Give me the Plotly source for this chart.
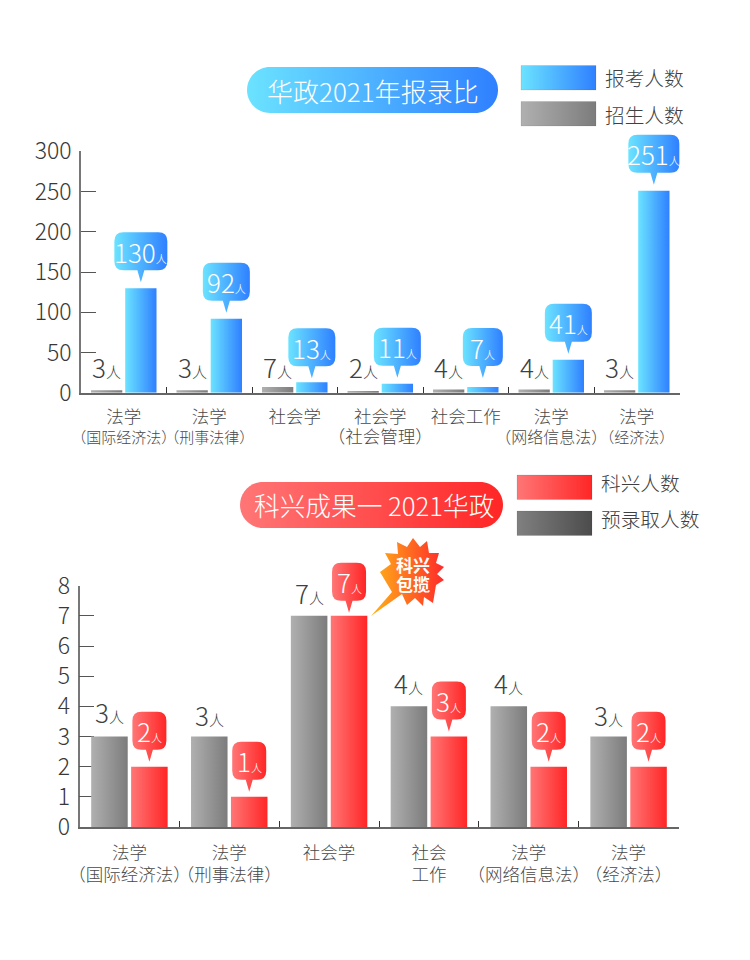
import plotly.graph_objects as go

W, H = 750, 960
FONT = "Noto Sans CJK SC"
TXT = "#404040"

# ---------- data ----------
cats_top = ["法学|（国际经济法）", "法学|（刑事法律）", "社会学", "社会学|（社会管理）", "社会工作", "法学|（网络信息法）", "法学|（经济法）"]
applicants_top = [130, 92, 13, 11, 7, 41, 251]
quota_top = [3, 3, 7, 2, 4, 4, 3]
ticks_top = [0, 50, 100, 150, 200, 250, 300]

cats_bot = ["法学|（国际经济法）", "法学|（刑事法律）", "社会学", "社会|工作", "法学|（网络信息法）", "法学|（经济法）"]
preadmit_bot = [3, 3, 7, 4, 4, 3]
kexing_bot = [2, 1, 7, 3, 2, 2]
ticks_bot = [0, 1, 2, 3, 4, 5, 6, 7, 8]

title_top = "华政2021年报录比"
title_bot = "科兴成果一 2021华政"
legend_top = ["报考人数", "招生人数"]
legend_bot = ["科兴人数", "预录取人数"]
unit = "人"
star_lines = ["科兴", "包揽"]

# ---------- styles (key colour -> gradient, applied after render) ----------
BLUE, GREY, RED, DARK, ORANGE = "#4fb4ff", "#949494", "#ff5050", "#666666", "#ff7a1a"
GRADS = {BLUE: ("#6be3ff", "#2f80ff"), GREY: ("#b0b0b0", "#7c7c7c"), RED: ("#ff7676", "#ff2626"),
         DARK: ("#808080", "#4c4c4c"), ORANGE: ("#ffb516", "#ff2a2a")}
def fy(p): return 1 - p / H
def fx(p): return p / W

# plot areas in pixels
TOP = dict(x0=81, x1=679.5, y0=392.7, y1=151.4, ymax=300, n=len(cats_top))
BOT = dict(x0=79.5, x1=678.5, y0=827, y1=585.7, ymax=8, n=len(cats_bot))

fig = go.Figure()
def label(c, big, small):
    parts = c.split("|")
    out = f'<span style="font-size:{big}px">{parts[0]}</span>'
    if len(parts) > 1:
        s = big if parts[1][1:-1] == "工作" else small
        out += f'<br><span style="font-size:{s}px">{parts[1]}</span>'
    return out

def add_bars(x, a, b, ca, cb, xa, ya):
    fig.add_bar(x=x, y=a, marker=dict(color=ca, line_width=0), xaxis=xa, yaxis=ya, cliponaxis=False)
    fig.add_bar(x=x, y=b, marker=dict(color=cb, line_width=0), xaxis=xa, yaxis=ya, cliponaxis=False)

small_top = [15, 15, 15, 17.5, 15, 16, 15]
xt = [label(c, 17.5, s) for c, s in zip(cats_top, small_top)]
xb = [label(c, 17.5, 17.5) for c in cats_bot]
add_bars(xt, quota_top, applicants_top, GREY, BLUE, "x", "y")
add_bars(xb, preadmit_bot, kexing_bot, GREY, RED, "x2", "y2")

axis_x = dict(type="category", tickson="boundaries", ticks="inside", ticklen=6, tickcolor="#333333", tickwidth=1,
              showline=True, linecolor="#666666", linewidth=1.5, showgrid=False, zeroline=False, layer="below traces",
              tickangle=0, automargin=False, ticklabelstandoff=10)
axis_y = dict(ticks="inside", ticklen=15, tickcolor="#555555", tickwidth=1.2, showline=True, linecolor="#777777",
              linewidth=1.5, showgrid=False, zeroline=False, layer="below traces", tickmode="array", automargin=False,
              ticklabelstandoff=3,
              tickfont=dict(family=FONT, size=23, color="#383838", weight=300))

shapes, ann = [], []

def pill(x0, x1, y0, y1, color):
    r = (y1 - y0) / 2
    X0, X1, Y0, Y1 = x0, x1, y0, y1
    k = 0.5523 * r
    path = (f"M {fx(X0+r)} {fy(Y0)} L {fx(X1-r)} {fy(Y0)} "
            f"C {fx(X1-r+k)} {fy(Y0)} {fx(X1)} {fy(Y0+r-k)} {fx(X1)} {fy(Y0+r)} "
            f"C {fx(X1)} {fy(Y0+r+k)} {fx(X1-r+k)} {fy(Y1)} {fx(X1-r)} {fy(Y1)} "
            f"L {fx(X0+r)} {fy(Y1)} "
            f"C {fx(X0+r-k)} {fy(Y1)} {fx(X0)} {fy(Y0+r+k)} {fx(X0)} {fy(Y0+r)} "
            f"C {fx(X0)} {fy(Y0+r-k)} {fx(X0+r-k)} {fy(Y0)} {fx(X0+r)} {fy(Y0)} Z")
    shapes.append(dict(type="path", xref="paper", yref="paper", path=path, fillcolor=color, line_width=0, layer="above"))

def text(x, y, s, size, color=TXT, anchor="center", weight=300, yanchor="middle"):
    ann.append(dict(xref="paper", yref="paper", x=fx(x), y=fy(y), text=s, showarrow=False, xanchor=anchor, yanchor=yanchor,
                    font=dict(family=FONT, size=size, color=color, weight=weight), borderpad=0, borderwidth=0))

def swatch(x0, x1, y0, y1, color):
    shapes.append(dict(type="rect", xref="paper", yref="paper", x0=fx(x0), x1=fx(x1), y0=fy(y0), y1=fy(y1),
                       fillcolor=color, line=dict(color="rgba(0,0,0,0.08)", width=1), layer="above"))

def bubble(A, xa, ya, idx, slot_off, value, w, tip_gap, txt, size, usize, color):
    """Callout anchored to a bar top; paper anchor because axis-referenced shapes get clipped."""
    h, tail, r = 38, 12, 9
    l, rt = -w / 2, w / 2
    b = tip_gap + tail
    t = b + h
    px = A["x0"] + (idx + 0.5 + slot_off) * (A["x1"] - A["x0"]) / A["n"]
    py = A["y0"] + (A["y1"] - A["y0"]) * value / A["ymax"]
    p = (f"M 0 {tip_gap} L -3.5 {b} L {l+r} {b} Q {l} {b} {l} {b+r} L {l} {t-r} Q {l} {t} {l+r} {t} "
         f"L {rt-r} {t} Q {rt} {t} {rt} {t-r} L {rt} {b+r} Q {rt} {b} {rt-r} {b} L 3.5 {b} Z")
    shapes.append(dict(type="path", xref="paper", yref="paper", xsizemode="pixel", ysizemode="pixel",
                       xanchor=fx(px), yanchor=fy(py), path=p, fillcolor=color, line_width=0, layer="above"))
    ann.append(dict(xref=xa, yref=ya, x=idx + slot_off, y=value, text=f'{txt}<span style="font-size:{usize}px">{unit}</span>',
                    showarrow=False, xanchor="center", yanchor="middle", yshift=b + h / 2, borderpad=0,
                    font=dict(family=FONT, size=size, color="white", weight=300)))

def grey_label(xa, ya, idx, slot_off, value, gap, size=26, usize=15):
    ann.append(dict(xref=xa, yref=ya, x=idx + slot_off, y=value, text=f'{value}<span style="font-size:{usize}px">{unit}</span>',
                    showarrow=False, xanchor="center", yanchor="bottom", yshift=gap, borderpad=0,
                    font=dict(family=FONT, size=size, color=TXT, weight=300)))

off_t = 0.2
bub_w_t = [53, 47, 47, 47, 40, 47, 51]
tip_t = [6, 6, 4, 6, 9, 6, 6]
lab_gap_t = [4, 4, 1, 5, 3.5, 3.5, 4]
for i, v in enumerate(applicants_top):
    bubble(TOP, "x", "y", i, off_t, v, bub_w_t[i], tip_t[i], str(v), 26, 11, BLUE)
for i, v in enumerate(quota_top):
    grey_label("x", "y", i, -off_t, v, lab_gap_t[i])

off_b = 0.2
tip_b = [5, 5, 3, 5, 5, 5]
lab_gap_b = [6, 3, 4, 4, 4, 3]
for i, v in enumerate(kexing_bot):
    bubble(BOT, "x2", "y2", i, off_b, v, 34, tip_b[i], str(v), 26, 11, RED)
for i, v in enumerate(preadmit_bot):
    grey_label("x2", "y2", i, -off_b, v, lab_gap_b[i])

# titles & legends
pill(247, 498, 67, 113, BLUE)
text(373, 90, title_top, 26, "white")
swatch(521, 596, 65.5, 90, BLUE)
swatch(521, 596, 101.5, 126, GREY)
text(605, 77.5, legend_top[0], 19.7, anchor="left")
text(605, 114.5, legend_top[1], 19.7, anchor="left")

pill(240, 503, 482, 528, RED)
text(374, 505, title_bot, 25.7, "white")
swatch(517, 592, 475, 499.5, RED)
swatch(517, 592, 511, 535.5, DARK)
text(601, 482.5, legend_bot[0], 19.7, anchor="left")
text(601, 518.5, legend_bot[1], 19.7, anchor="left")

# burst
star = [(371,616),(392,592),(380,572),(391,564),(385,553),(398,554),(397,542),(407,547),(413,538),(420,547),(427,541),(429,553),(439,553),(436,563),(444,567),(437,574),(444,580),(436,585),(433,603),(424,597),(423,606),(415,598),(407,605),(402,594)]
path = "M " + " L ".join(f"{fx(a)} {fy(b)}" for a, b in star) + " Z"
shapes.append(dict(type="path", xref="paper", yref="paper", path=path, fillcolor=ORANGE, line_width=0, layer="above"))
text(413, 564.5, star_lines[0], 17, "white", weight=700)
text(413, 583.5, star_lines[1], 17, "white", weight=700)

fig.update_layout(
    template="none",
    width=W, height=H, margin=dict(l=0, r=0, t=0, b=0), autosize=False, showlegend=False,
    paper_bgcolor="white", plot_bgcolor="rgba(0,0,0,0)", font=dict(family=FONT),
    barmode="group", bargap=0.2, bargroupgap=0.085, shapes=shapes, annotations=ann,
    xaxis=dict(axis_x, domain=[fx(TOP["x0"]), fx(TOP["x1"])], anchor="y", range=[-0.5, TOP["n"] - 0.5],
               tickfont=dict(family=FONT, size=15.5, color="#484848", weight=300)),
    yaxis=dict(axis_y, domain=[fy(TOP["y0"]), fy(TOP["y1"])], anchor="x", range=[0, TOP["ymax"]], tickvals=ticks_top),
    xaxis2=dict(axis_x, domain=[fx(BOT["x0"]), fx(BOT["x1"])], anchor="y2", range=[-0.5, BOT["n"] - 0.5],
                tickfont=dict(family=FONT, size=17, color="#484848", weight=300)),
    yaxis2=dict(axis_y, domain=[fy(BOT["y0"]), fy(BOT["y1"])], anchor="x2", range=[0, BOT["ymax"]], tickvals=ticks_bot),
)

grads_js = "{" + ",".join(f'"{k}":["{v[0]}","{v[1]}"]' for k, v in GRADS.items()) + "}"
post = """
document.documentElement.style.margin='0';document.body.style.margin='0';document.body.style.overflow='hidden';
(function(){
 var G=%s, gd=document.getElementById('{plot_id}'), svg=gd.querySelector('svg.main-svg');
 var ns='http://www.w3.org/2000/svg', defs=svg.querySelector('defs')||svg.insertBefore(document.createElementNS(ns,'defs'),svg.firstChild), map={};
 function rgb(h){return 'rgb('+parseInt(h.slice(1,3),16)+', '+parseInt(h.slice(3,5),16)+', '+parseInt(h.slice(5,7),16)+')';}
 Object.keys(G).forEach(function(k,i){
  var g=document.createElementNS(ns,'linearGradient');g.setAttribute('id','grad'+i);
  [[0,G[k][0]],[1,G[k][1]]].forEach(function(s){var st=document.createElementNS(ns,'stop');st.setAttribute('offset',s[0]);st.setAttribute('stop-color',s[1]);g.appendChild(st);});
  defs.appendChild(g);map[rgb(k)]='url(#grad'+i+')';
 });
 gd.querySelectorAll('.bars path, .shapelayer path').forEach(function(p){var f=map[p.style.fill];if(f)p.style.fill=f;});
})();
""" % grads_js
fig.write_html("out.html", post_script=post, config=dict(displayModeBar=False))
